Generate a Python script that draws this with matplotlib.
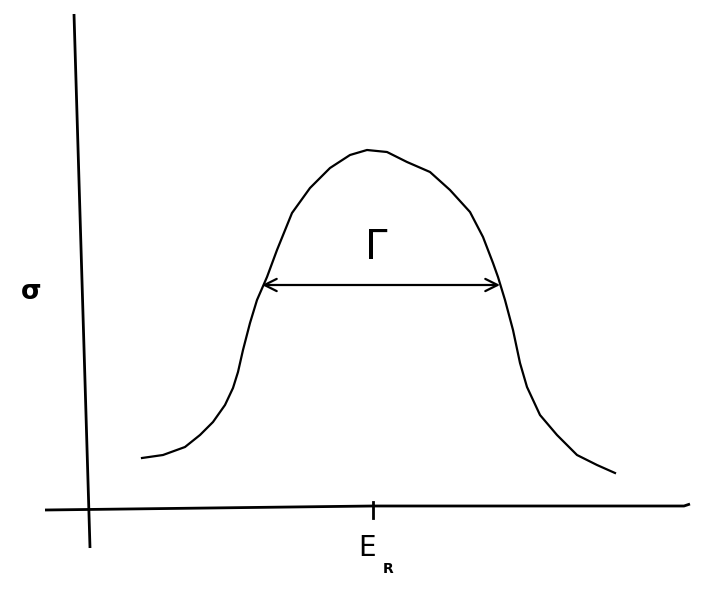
import matplotlib
matplotlib.use("Agg")
import matplotlib.pyplot as plt

# Resonance curve (arbitrary units)
energy = [5.4, 7.5, 9.7, 11.2, 12.5, 13.7, 14.5, 15.0, 15.5, 16.2, 16.9, 17.9, 18.9,
          20.4, 22.2, 24.2, 26.2, 27.9, 29.9, 31.9, 34.2, 36.2, 38.2, 39.5, 40.5,
          41.0, 41.7, 42.5, 43.2, 43.9, 45.2, 46.9, 48.9, 50.9, 52.7]
sigma = [5.0, 5.3, 6.1, 7.3, 8.6, 10.3, 12.0, 13.6, 15.8, 18.5, 20.8, 23.1, 25.8,
         29.5, 32.0, 34.0, 35.3, 35.8, 35.6, 34.6, 33.6, 31.8, 29.6, 27.1, 24.5,
         23.1, 20.8, 17.8, 14.5, 12.1, 9.3, 7.3, 5.3, 4.3, 3.5]

# Hand-drawn axes
yaxis_x = [-1.4, 0.2]
yaxis_y = [49.4, -4.0]
xaxis_x = [-4.3, 28.5, 59.6, 60.2]
xaxis_y = [-0.2, 0.2, 0.2, 0.4]

E_R = 28.5
gamma_left, gamma_right, gamma_level = 17.4, 41.2, 22.3

fig = plt.figure(figsize=(7.04, 6.14), dpi=100)
ax = fig.add_axes([0, 0, 1, 1])
ax.set_xlim(-8.8, 61.6)
ax.set_ylim(-10.6, 50.8)
ax.axis("off")

ax.plot(yaxis_x, yaxis_y, color="black", lw=2.0, solid_capstyle="butt")
ax.plot(xaxis_x, xaxis_y, color="black", lw=2.0, solid_capstyle="butt")
ax.plot([E_R, E_R], [0.6, -1.0], color="black", lw=2.0)

ax.plot(energy, sigma, color="black", lw=1.6, solid_joinstyle="round")

ax.annotate("", xy=(gamma_left, gamma_level), xytext=(gamma_right, gamma_level),
            arrowprops=dict(arrowstyle="<->", color="black", lw=1.6,
                            mutation_scale=22, shrinkA=0, shrinkB=0))

ax.text(28.8, 26.0, "Γ", fontsize=29, ha="center", va="center",
        family="DejaVu Sans")
ax.text(-5.7, 21.6, "σ", fontsize=19, ha="center", va="center",
        family="DejaVu Sans", fontweight="bold")
ax.text(27.9, -4.0, "E", fontsize=20, ha="center", va="center",
        family="DejaVu Sans")
ax.text(30.0, -6.1, "R", fontsize=10, ha="center", va="center",
        family="DejaVu Sans", fontweight="bold")

fig.savefig("out.png", dpi=100, facecolor="white")
